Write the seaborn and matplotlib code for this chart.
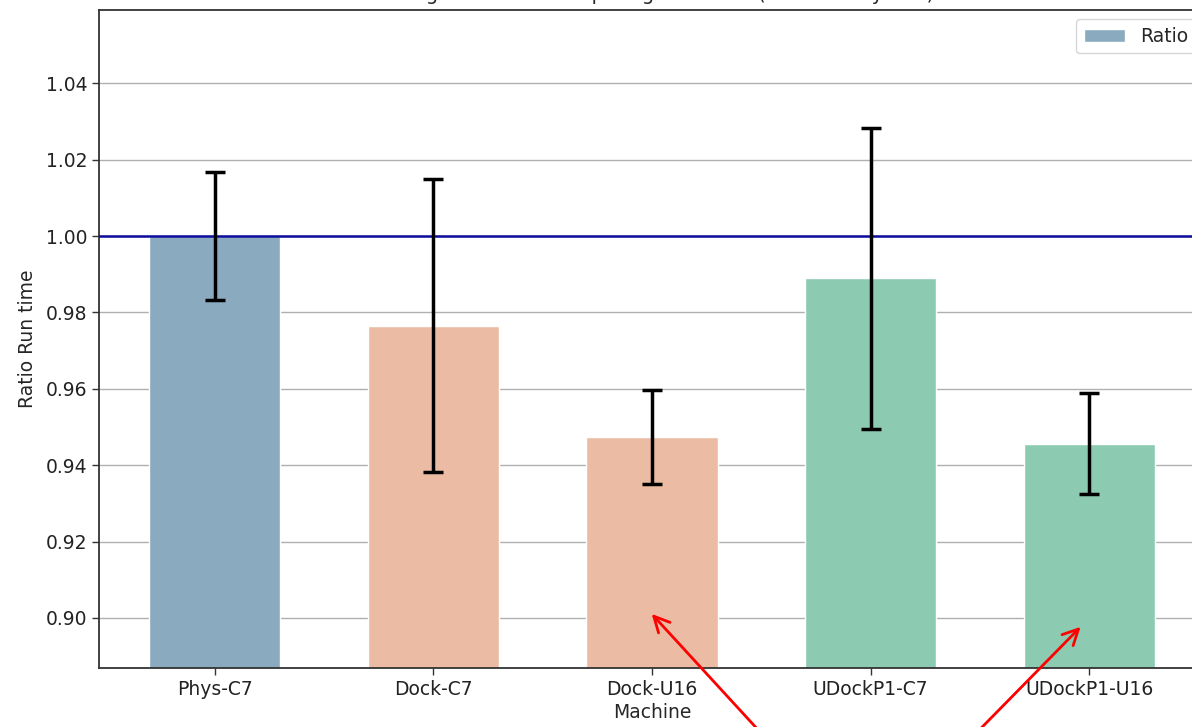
import numpy as np
import pandas as pd
import matplotlib
matplotlib.use("Agg")
import matplotlib.pyplot as plt
import seaborn as sns

# ============================================================
# Donnees
# ============================================================
machines = ["Phys-C7", "Dock-C7", "Dock-U16", "UDockP1-C7", "UDockP1-U16"]
groups = ["Phys", "Dock", "Dock", "UDockP1", "UDockP1"]
ratios = [1.000, 0.9765, 0.9474, 0.9889, 0.9456]
errs = [0.0168, 0.0384, 0.0122, 0.0395, 0.0132]
group_colors = {"Phys": "#8aaabf", "Dock": "#ebbca3", "UDockP1": "#8ccbb2"}
yticks = [0.90, 0.92, 0.94, 0.96, 0.98, 1.00, 1.02, 1.04]

df = pd.DataFrame({"Machine": machines, "Group": groups,
                   "Ratio": ratios, "Err": errs})

sns.set_theme(style="ticks")
plt.rcParams["font.family"] = ["DejaVu Sans"]

fig = plt.figure(figsize=(11.92, 7.27), dpi=100)
# axes depasse a droite : l'image d'origine est recadree
ax = fig.add_axes([99 / 1192, 1 - 668 / 727, 1106 / 1192, 658 / 727])

sns.barplot(data=df, x="Machine", y="Ratio", hue="Group", palette=group_colors,
            dodge=False, width=0.6, saturation=1, legend=False, ax=ax, zorder=2)
ax.errorbar(np.arange(len(machines)), df["Ratio"], yerr=df["Err"], fmt="none",
            ecolor="black", elinewidth=2.5, capsize=7.5, capthick=2.5, zorder=4)
ax.axhline(1.0, color="#0c0c9c", lw=1.8, zorder=3)

ax.set_xlim(-0.53, 4.53)
ax.set_ylim(0.8869, 1.0592)
ax.set_yticks(yticks)
ax.set_yticklabels([f"{t:.2f}" for t in yticks])
ax.yaxis.grid(True, color="#b0b0b0", lw=1, zorder=0)
ax.set_axisbelow(True)
ax.tick_params(labelsize=13.5, length=5, width=1, color="#333333", labelcolor="#222222")
for s in ax.spines.values():
    s.set_color("#333333")
    s.set_linewidth(1.3)
ax.set_xlabel("Machine", fontsize=13.5, labelpad=3)
ax.set_ylabel("Ratio Run time", fontsize=13.5, labelpad=6)
ax.set_title("Average Run time comparing Machines (Ratio to Phys-C7)", fontsize=14, pad=7.5)

ax.legend([ax.patches[0]], ["Ratio"], loc="upper right", fontsize=13.5,
          frameon=True, fancybox=True, borderaxespad=0.5, handlelength=2.2)

# fleches rouges d'annotation
arrow = dict(arrowstyle="->", color="red", lw=2, mutation_scale=28)
ax.annotate("", xy=(1.99, 0.9016), xytext=(0.645, -0.02),
            textcoords="figure fraction", arrowprops=arrow, annotation_clip=False)
ax.annotate("", xy=(3.97, 0.8982), xytext=(0.812, -0.02),
            textcoords="figure fraction", arrowprops=arrow, annotation_clip=False)

fig.savefig("out.png", dpi=100)
